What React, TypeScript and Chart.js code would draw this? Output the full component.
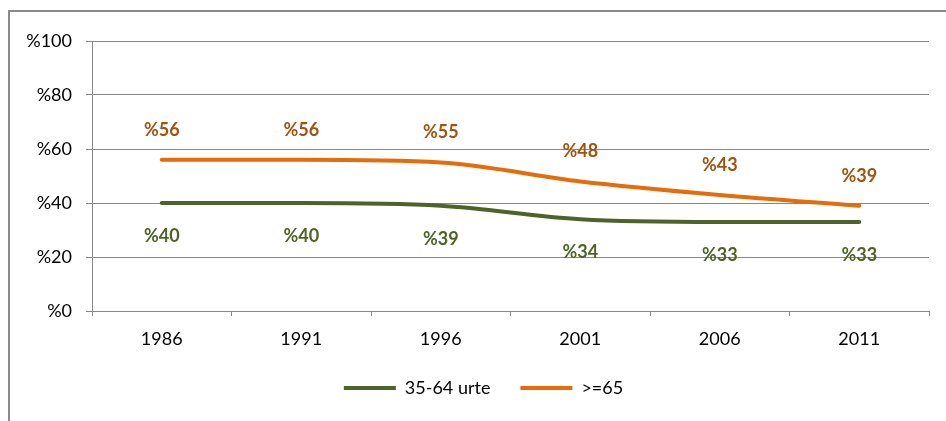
import React, { useEffect, useRef } from "react";
import { Chart, registerables } from "chart.js";

Chart.register(...registerables);

const years = ["1986", "1991", "1996", "2001", "2006", "2011"];
const age3564 = [40, 40, 39, 34, 33, 33];
const age65 = [56, 56, 55, 48, 43, 39];
const seriesNames = ["35-64 urte", ">=65"];
const yMin = 0;
const yMax = 100;
const yStep = 20;

const FONT = "Lato, 'Open Sans', sans-serif";
const GREEN = "#4F6228";
const ORANGE = "#E46C0A";
const GREEN_LABEL = "#4F6228";
const ORANGE_LABEL = "#A3520E";
const GRID = "#888888";

const valueLabels = {
  id: "valueLabels",
  afterDatasetsDraw(chart: any) {
    const ctx = chart.ctx;
    ctx.save();
    ctx.font = `bold 18px ${FONT}`;
    ctx.textAlign = "center";
    ctx.textBaseline = "middle";
    chart.data.datasets.forEach((ds: any, i: number) => {
      const meta = chart.getDatasetMeta(i);
      ctx.fillStyle = ds.labelColor;
      meta.data.forEach((pt: any, j: number) => {
        ctx.fillText("%" + ds.data[j], pt.x, pt.y + ds.labelOffset);
      });
    });
    ctx.restore();
  },
};

const legendShift = {
  id: "legendShift",
  afterLayout(chart: any) {
    const lg = chart.legend;
    if (lg) {
      lg.left += 9;
      lg.right += 9;
    }
  },
};

export default function App() {
  const ref = useRef<HTMLCanvasElement>(null);
  useEffect(() => {
    const chart = new Chart(ref.current as HTMLCanvasElement, {
      type: "line",
      data: {
        labels: years,
        datasets: [
          {
            label: seriesNames[0],
            data: age3564,
            borderColor: GREEN,
            backgroundColor: GREEN,
            borderWidth: 4,
            borderCapStyle: "round",
            pointRadius: 0,
            cubicInterpolationMode: "monotone",
            labelColor: GREEN_LABEL,
            labelOffset: 33,
          } as any,
          {
            label: seriesNames[1],
            data: age65,
            borderColor: ORANGE,
            backgroundColor: ORANGE,
            borderWidth: 4,
            borderCapStyle: "round",
            pointRadius: 0,
            cubicInterpolationMode: "monotone",
            labelColor: ORANGE_LABEL,
            labelOffset: -30,
          } as any,
        ],
      },
      options: {
        animation: false,
        responsive: false,
        maintainAspectRatio: false,
        layout: { padding: { left: 20, right: 17, top: 41, bottom: 14 } },
        plugins: {
          tooltip: { enabled: false },
          legend: {
            position: "bottom",
            labels: {
              usePointStyle: true,
              pointStyle: "line",
              pointStyleWidth: 52,
              padding: 30,
              color: "#000",
              font: { family: FONT, size: 18 },
            },
          },
        },
        scales: {
          x: {
            offset: true,
            grid: {
              offset: true,
              drawOnChartArea: false,
              drawTicks: true,
              tickLength: 5,
              color: GRID,
            },
            border: { display: true, color: GRID, width: 1 },
            ticks: { color: "#000", padding: 12, font: { family: FONT, size: 18 } },
            afterFit: (s: any) => {
              s.height = 38;
            },
          },
          y: {
            min: yMin,
            max: yMax,
            ticks: {
              stepSize: yStep,
              color: "#000",
              padding: 14,
              font: { family: FONT, size: 18 },
              callback: (v: any) => "%" + v,
            },
            grid: { color: GRID, tickLength: 6, lineWidth: 1 },
            border: { display: true, color: GRID, width: 1 },
            afterFit: (s: any) => {
              s.width = 72;
            },
          },
        },
      },
      plugins: [valueLabels, legendShift],
    });
    return () => chart.destroy();
  }, []);

  return (
    <div style={{ position: "absolute", left: 0, top: 0, width: 946, height: 421, overflow: "hidden", background: "#fff" }}>
      <div
        style={{
          position: "absolute",
          left: 8,
          top: 10,
          width: 1000,
          height: 500,
          borderTop: "2px solid #8a8a8a",
          borderLeft: "2px solid #8a8a8a",
        }}
      />
      <canvas ref={ref} width={946} height={421} style={{ position: "absolute", left: 0, top: 0 }} />
    </div>
  );
}
